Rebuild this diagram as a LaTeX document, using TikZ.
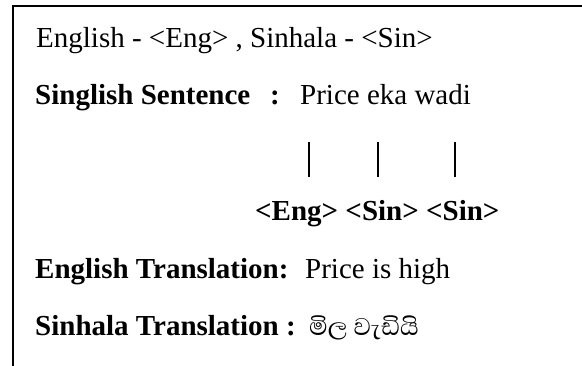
\documentclass[tikz,border=0pt]{standalone}
\usepackage{fontspec}
\setmainfont{Liberation Serif}
\newfontfamily\sinfont[Script=Sinhala]{Abhaya Libre}
\begin{document}
\begin{tikzpicture}[x=1pt,y=-1pt,
  txt/.style={anchor=base west,inner sep=0pt,font=\fontsize{29}{35}\selectfont},
  bar/.style={line width=2.5pt},
  frame/.style={line width=2pt}]
\useasboundingbox (0,0) rectangle (582,365);
\draw[frame] (13,366) -- (13,6) -- (583,6);
\node[txt] (l1) at (36,47) {English - <Eng> , Sinhala - <Sin>};
\node[txt] (l2a) at (35,104) {\bfseries Singlish Sentence};
\node[txt] (l2b) at (270,104) {\bfseries :};
\node[txt] (l2c) at (300,104) {Price eka wadi};
\coordinate (b1t) at (309,142); \coordinate (b1b) at (309,177);
\coordinate (b2t) at (378,142); \coordinate (b2b) at (378,177);
\coordinate (b3t) at (455,142); \coordinate (b3b) at (455,177);
\draw[bar] (b1t) -- (b1b);
\draw[bar] (b2t) -- (b2b);
\draw[bar] (b3t) -- (b3b);
\node[txt] (tags) at (255,220) {\bfseries <Eng> <Sin> <Sin>};
\node[txt] (l5a) at (35,278) {\bfseries English Translation:};
\node[txt] (l5b) at (305,278) {Price is high};
\node[txt] (l6a) at (35,335) {\bfseries Sinhala Translation :};
\node[txt,font=\fontsize{31}{37}\selectfont] (l6b) at (309,335) {\sinfont මිල වැඩියි};
\end{tikzpicture}
\end{document}
